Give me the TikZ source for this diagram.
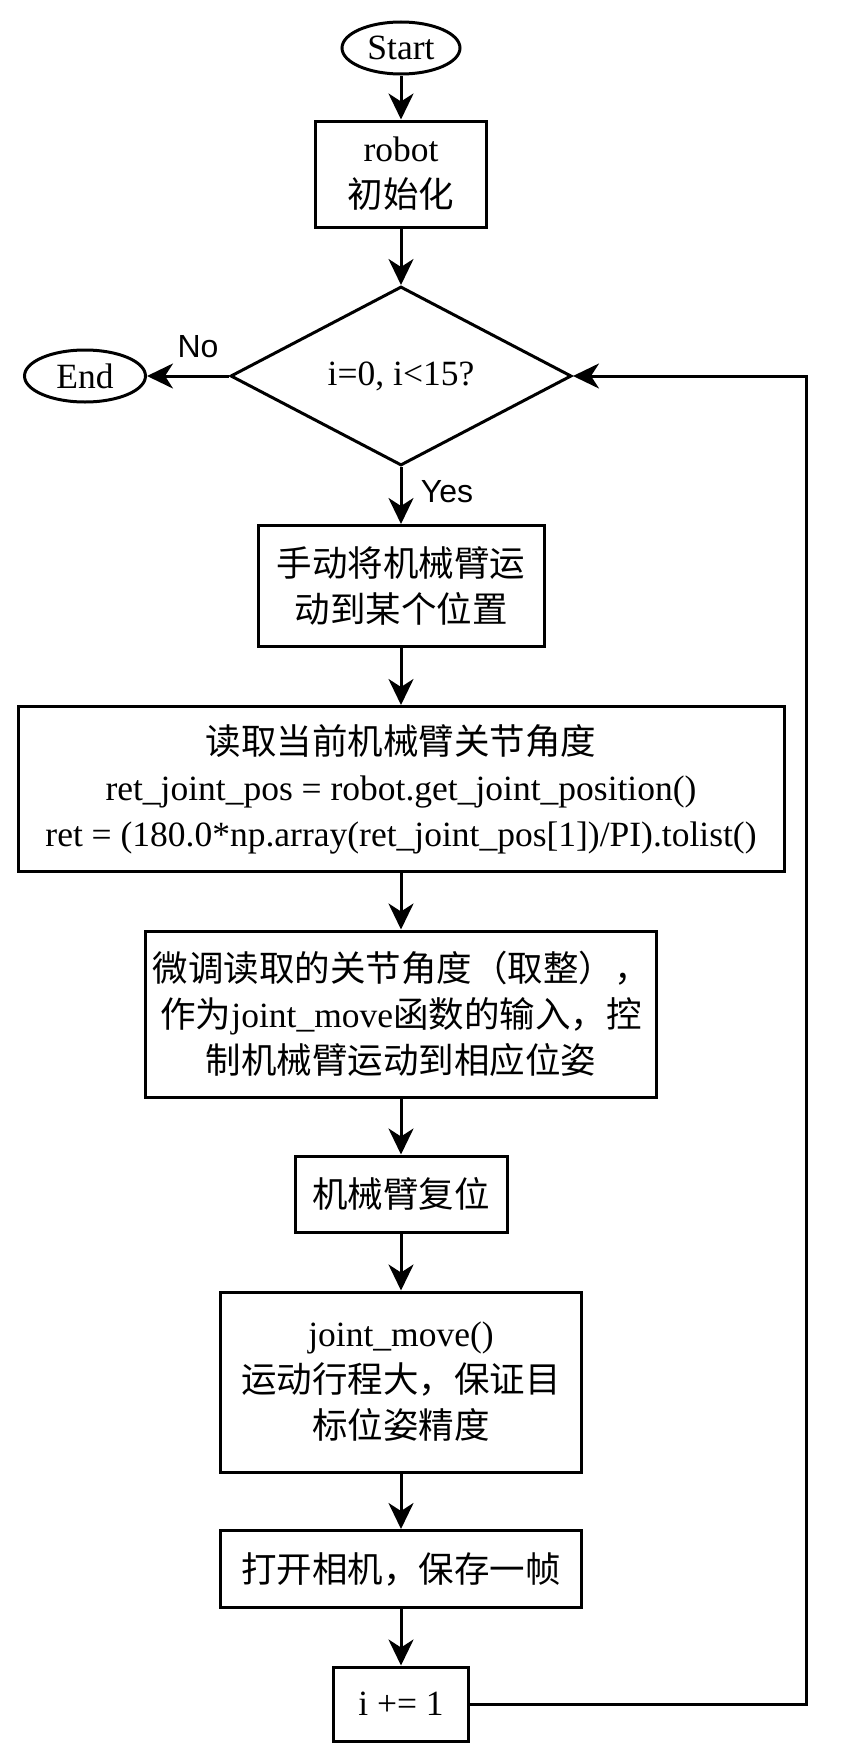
\documentclass[tikz,border=0pt]{standalone}
\usepackage{fontspec}
\setmainfont{Liberation Serif}
\newfontfamily\cjk{Noto Sans CJK SC}
\newfontfamily\lsans{Liberation Sans}
\usetikzlibrary{shapes.geometric,arrows.meta}
\begin{document}
\begin{tikzpicture}[x=1pt,y=-1pt,
  txt/.style={font=\fontsize{35.5}{46}\selectfont, align=center},
  box/.style={txt, draw, line width=3pt, rectangle, inner sep=0pt},
  term/.style={txt, draw, line width=3pt, ellipse, inner sep=0pt},
  dec/.style={txt, draw, line width=3pt, diamond, inner sep=0pt},
  lbl/.style={font=\lsans\fontsize{32}{36}\selectfont, inner sep=0pt},
  arr/.style={line width=3pt, -{Stealth[length=26pt, width=25pt, inset=8pt]}}]
\useasboundingbox (0,0) rectangle (846,1761);
\node[term, minimum width=118pt, minimum height=52pt] (start) at (401,48) {Start};
\node[box, minimum width=171pt, minimum height=106pt] (init) at (401,174) {robot\\{\cjk 初始化}};
\node[dec, minimum width=341pt, minimum height=179pt] (cond) at (401,376) {i=0, i<15?};
\node[term, minimum width=121pt, minimum height=52pt] (end) at (85,376) {End};
\node[box, minimum width=286pt, minimum height=121pt] (manual) at (401,586) {{\cjk 手动将机械臂运}\\{\cjk 动到某个位置}};
\node[box, minimum width=766pt, minimum height=165pt] (read) at (401,789) {{\cjk 读取当前机械臂关节角度}\\ret\_joint\_pos = robot.get\_joint\_position()\\ret = (180.0*np.array(ret\_joint\_pos[1])/PI).tolist()};
\node[box, minimum width=511pt, minimum height=166pt] (tune) at (401,1014) {{\cjk 微调读取的关节角度（取整），}\\{\cjk 作为}joint\_move{\cjk 函数的输入，控}\\{\cjk 制机械臂运动到相应位姿}};
\node[box, minimum width=212pt, minimum height=76pt] (reset) at (401,1194) {{\cjk 机械臂复位}};
\node[box, minimum width=361pt, minimum height=180pt] (jm) at (401,1382) {joint\_move()\\{\cjk 运动行程大，保证目}\\{\cjk 标位姿精度}};
\node[box, minimum width=361pt, minimum height=77pt] (cam) at (401,1569) {{\cjk 打开相机，保存一帧}};
\node[box, minimum width=135pt, minimum height=74pt] (inc) at (401,1704) {i += 1};
\coordinate (c1) at (806,1704);
\coordinate (c2) at (806,376);
\node[lbl] (nolab) at (198,347) {No};
\node[lbl] (yeslab) at (447,492) {Yes};
\draw[arr] (start) -- (init);
\draw[arr] (init) -- (cond);
\draw[arr] (cond) -- (end);
\draw[arr] (cond) -- (manual);
\draw[arr] (manual) -- (read);
\draw[arr] (read) -- (tune);
\draw[arr] (tune) -- (reset);
\draw[arr] (reset) -- (jm);
\draw[arr] (jm) -- (cam);
\draw[arr] (cam) -- (inc);
\draw[arr] (inc.east) -- (c1) -- (c2) -- (cond.east);
\end{tikzpicture}
\end{document}
